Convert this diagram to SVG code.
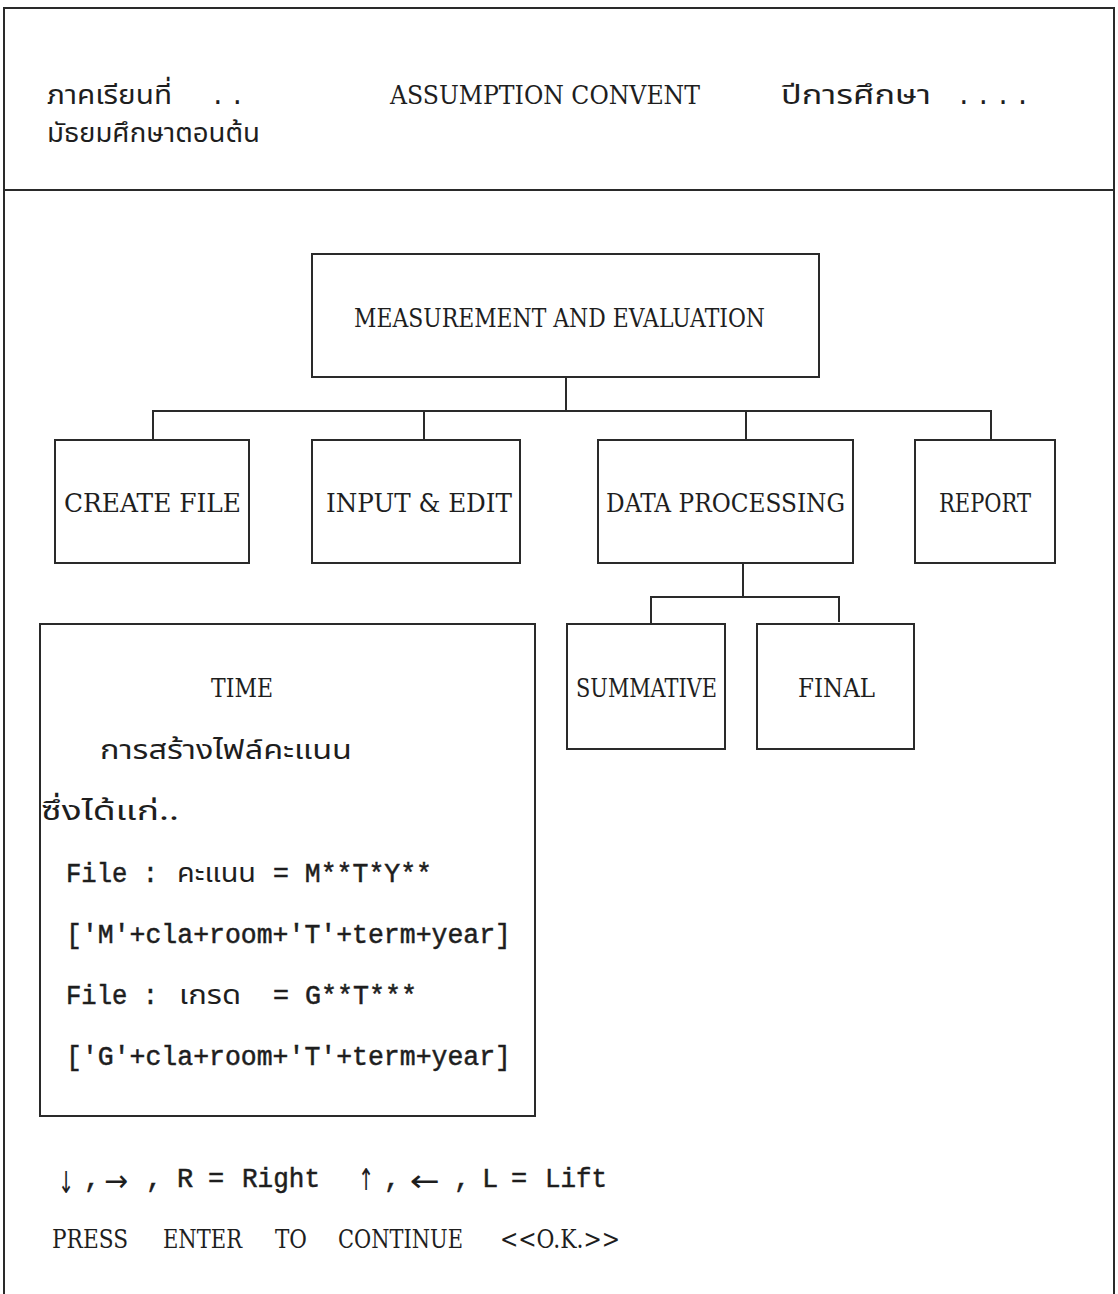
<svg xmlns="http://www.w3.org/2000/svg" width="1118" height="1294" viewBox="0 0 1118 1294">
  <style>
    .frame { fill: none; stroke: #2a2a2a; stroke-width: 2; }
    .box { fill: #ffffff; stroke: #2a2a2a; stroke-width: 2; }
    .wire { fill: none; stroke: #2a2a2a; stroke-width: 2; }
    .label { font-family: "DejaVu Serif", "Liberation Serif", serif; font-size: 26px; fill: #1e1e1e; }
    .thai { font-family: "Noto Sans Thai", "Noto Sans", "DejaVu Sans", sans-serif; font-size: 27px; fill: #1e1e1e; }
    .dots { font-family: "Liberation Mono", monospace; font-size: 26px; fill: #1e1e1e; letter-spacing: 4px; }
    .code { font-family: "Liberation Mono", "DejaVu Sans Mono", monospace; font-size: 27px; fill: #1e1e1e; stroke: #1e1e1e; stroke-width: 0.5; }
    .arrow { font-family: "DejaVu Sans", sans-serif; font-size: 30px; fill: #1e1e1e; }
  </style>
  <rect x="0" y="0" width="1118" height="1294" fill="#ffffff"/>

  <!-- page frame and header rule -->
  <g id="frame">
    <polyline class="frame" points="4,1294 4,8 1114,8 1114,1294"/>
    <line class="frame" x1="4" y1="190" x2="1114" y2="190"/>
  </g>

  <!-- header lines -->
  <g id="header">
    <text class="thai" x="47" y="104" textLength="125" lengthAdjust="spacingAndGlyphs">ภาคเรียนที่</text>
    <text class="dots" x="210" y="104">..</text>
    <text class="label" x="390" y="104" textLength="310" lengthAdjust="spacingAndGlyphs">ASSUMPTION CONVENT</text>
    <text class="thai" x="781" y="104" textLength="150" lengthAdjust="spacingAndGlyphs">ปีการศึกษา</text>
    <text class="dots" x="956" y="104">....</text>
    <text class="thai" x="47" y="142" textLength="213" lengthAdjust="spacingAndGlyphs">มัธยมศึกษาตอนต้น</text>
  </g>

  <!-- connectors -->
  <g id="connectors">
    <line class="wire" x1="566" y1="377" x2="566" y2="411"/>
    <polyline class="wire" points="153,440 153,411 991,411 991,440"/>
    <line class="wire" x1="424" y1="411" x2="424" y2="440"/>
    <line class="wire" x1="746" y1="411" x2="746" y2="440"/>
    <line class="wire" x1="743" y1="563" x2="743" y2="597"/>
    <polyline class="wire" points="651,624 651,597 839,597 839,622"/>
  </g>

  <g id="node-root">
    <rect class="box" x="312" y="254" width="507" height="123"/>
    <text class="label" x="354" y="327" textLength="411" lengthAdjust="spacingAndGlyphs">MEASUREMENT AND EVALUATION</text>
  </g>

  <g id="node-create-file">
    <rect class="box" x="55" y="440" width="194" height="123"/>
    <text class="label" x="64" y="512" textLength="177" lengthAdjust="spacingAndGlyphs">CREATE FILE</text>
  </g>

  <g id="node-input-edit">
    <rect class="box" x="312" y="440" width="208" height="123"/>
    <text class="label" x="326" y="512" textLength="186" lengthAdjust="spacingAndGlyphs">INPUT &amp; EDIT</text>
  </g>

  <g id="node-data-processing">
    <rect class="box" x="598" y="440" width="255" height="123"/>
    <text class="label" x="606" y="512" textLength="239" lengthAdjust="spacingAndGlyphs">DATA PROCESSING</text>
  </g>

  <g id="node-report">
    <rect class="box" x="915" y="440" width="140" height="123"/>
    <text class="label" x="939" y="512" textLength="92" lengthAdjust="spacingAndGlyphs">REPORT</text>
  </g>

  <g id="node-summative">
    <rect class="box" x="567" y="624" width="158" height="125"/>
    <text class="label" x="576" y="697" textLength="141" lengthAdjust="spacingAndGlyphs">SUMMATIVE</text>
  </g>

  <g id="node-final">
    <rect class="box" x="757" y="624" width="157" height="125"/>
    <text class="label" x="798" y="697" textLength="77" lengthAdjust="spacingAndGlyphs">FINAL</text>
  </g>

  <!-- explanation panel for the create-file step -->
  <g id="node-time">
    <rect class="box" x="40" y="624" width="495" height="492"/>
    <text class="label" x="211" y="697" textLength="62" lengthAdjust="spacingAndGlyphs">TIME</text>
    <text class="thai" x="100" y="759" textLength="252" lengthAdjust="spacingAndGlyphs">การสร้างไฟล์คะแนน</text>
    <text class="thai" x="41" y="820" textLength="138" lengthAdjust="spacingAndGlyphs">ซึ่งได้แก่..</text>
    <text class="code" x="66" y="882" textLength="92" lengthAdjust="spacingAndGlyphs">File :</text>
    <text class="thai" x="177" y="882" textLength="79" lengthAdjust="spacingAndGlyphs">คะแนน</text>
    <text class="code" x="273" y="882" textLength="159" lengthAdjust="spacingAndGlyphs">= M**T*Y**</text>
    <text class="code" x="66" y="943" textLength="445" lengthAdjust="spacingAndGlyphs">['M'+cla+room+'T'+term+year]</text>
    <text class="code" x="66" y="1004" textLength="92" lengthAdjust="spacingAndGlyphs">File :</text>
    <text class="thai" x="179" y="1004" textLength="62" lengthAdjust="spacingAndGlyphs">เกรด</text>
    <text class="code" x="273" y="1004" textLength="144" lengthAdjust="spacingAndGlyphs">= G**T***</text>
    <text class="code" x="66" y="1065" textLength="445" lengthAdjust="spacingAndGlyphs">['G'+cla+room+'T'+term+year]</text>
  </g>

  <!-- key help and prompt -->
  <g id="footer">
    <text class="arrow" x="58" y="1193" textLength="16" lengthAdjust="spacingAndGlyphs">↓</text>
    <text class="code" x="84" y="1187">,</text>
    <text class="arrow" x="104" y="1191" textLength="24" lengthAdjust="spacingAndGlyphs">→</text>
    <text class="code" x="146" y="1187">,</text>
    <text class="code" x="177" y="1187">R</text>
    <text class="code" x="208" y="1187">=</text>
    <text class="code" x="242" y="1187" textLength="78" lengthAdjust="spacingAndGlyphs">Right</text>
    <text class="arrow" x="358" y="1190" textLength="16" lengthAdjust="spacingAndGlyphs">↑</text>
    <text class="code" x="384" y="1187">,</text>
    <text class="arrow" x="410" y="1191" textLength="30" lengthAdjust="spacingAndGlyphs">←</text>
    <text class="code" x="454" y="1187">,</text>
    <text class="code" x="482" y="1187">L</text>
    <text class="code" x="511" y="1187">=</text>
    <text class="code" x="545" y="1187" textLength="62" lengthAdjust="spacingAndGlyphs">Lift</text>
    <text class="label" x="52" y="1248" textLength="76" lengthAdjust="spacingAndGlyphs">PRESS</text>
    <text class="label" x="163" y="1248" textLength="79" lengthAdjust="spacingAndGlyphs">ENTER</text>
    <text class="label" x="275" y="1248" textLength="32" lengthAdjust="spacingAndGlyphs">TO</text>
    <text class="label" x="338" y="1248" textLength="125" lengthAdjust="spacingAndGlyphs">CONTINUE</text>
    <text class="label" x="500" y="1248" textLength="120" lengthAdjust="spacingAndGlyphs">&lt;&lt;O.K.&gt;&gt;</text>
  </g>
</svg>
